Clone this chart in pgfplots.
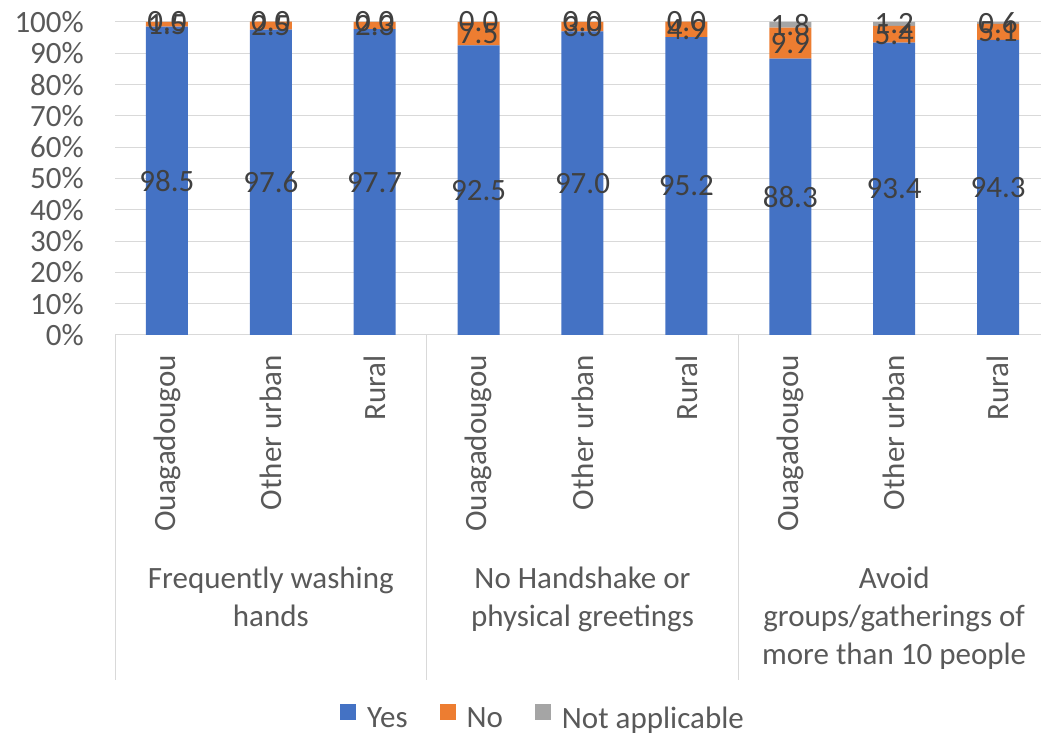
\documentclass[border=0pt]{standalone}
\usepackage{pgfplots}
\usepackage{pgfplotstable}
\pgfplotsset{compat=1.18}
\usepackage{fontspec}
\setmainfont{Carlito}
\definecolor{cblue}{HTML}{4472C4}
\definecolor{corange}{HTML}{ED7D31}
\definecolor{cgray}{HTML}{A5A5A5}
\definecolor{gridgray}{HTML}{D9D9D9}
\definecolor{ticktext}{HTML}{595959}
\definecolor{labeltext}{HTML}{404040}
\newcommand{\bigfont}{\fontsize{31bp}{38bp}\selectfont}

\pgfplotstableread{
x yes no na
0 98.5 1.5 0.0
1 97.6 2.5 0.0
2 97.7 2.3 0.0
3 92.5 7.5 0.0
4 97.0 3.0 0.0
5 95.2 4.9 0.0
6 88.3 9.9 1.8
7 93.4 5.4 1.2
8 94.3 5.1 0.6
}\datatable

\begin{document}
\begin{tikzpicture}
\begin{axis}[
  at={(115bp,399bp)}, anchor=south west,
  scale only axis, width=935bp, height=313bp,
  xmin=-0.5, xmax=8.5, ymin=0, ymax=100,
  clip=false,
  ybar stacked, stacked ignores zero=false, bar width=42bp,
  xtick={0,...,8},
  xticklabels={Ouagadougou,Other urban,Rural,Ouagadougou,Other urban,Rural,Ouagadougou,Other urban,Rural},
  xticklabel style={rotate=90, anchor=east, inner sep=0pt, font=\bigfont, text=ticktext},
  xticklabel shift=20bp,
  ytick={0,10,...,100},
  yticklabel={\pgfmathprintnumber{\tick}\%},
  yticklabel style={anchor=east, inner sep=0pt, font=\bigfont, text=ticktext},
  yticklabel shift=31bp,
  /pgf/number format/assume math mode=true,
  major tick length=0pt,
  ymajorgrids, grid style={draw=gridgray, line width=1bp},
  axis line style={draw=none},
  legend columns=3,
  legend style={draw=none, fill=none, at={(0.4578,-1.2236)}, anchor=center, font=\bigfont, text=ticktext,
    /tikz/every even column/.append style={column sep=30bp},
    /tikz/every odd column/.append style={column sep=9bp}},
  legend image code/.code={\fill[#1] (0bp,-2bp) rectangle (16bp,14bp);},
  nodes near coords={\pgfmathprintnumber[fixed,fixed zerofill,precision=1]{\pgfplotspointmeta}},
  point meta=rawy,
  every node near coord/.append style={anchor=center, font=\bigfont, text=labeltext},
]
\addplot[fill=cblue, draw=none] table[x=x, y=yes] {\datatable};
\addplot[fill=corange, draw=none] table[x=x, y=no] {\datatable};
\addplot[fill=cgray, draw=none] table[x=x, y=na] {\datatable};
\legend{Yes,No,Not applicable}
\draw[gridgray, line width=1bp] (axis cs:-0.5,0) -- ++(0bp,-345bp);
\draw[gridgray, line width=1bp] (axis cs:2.5,0) -- ++(0bp,-345bp);
\draw[gridgray, line width=1bp] (axis cs:5.5,0) -- ++(0bp,-345bp);
\draw[gridgray, line width=1bp] (axis cs:8.5,0) -- ++(0bp,-345bp);
\node[anchor=north, align=center, inner sep=0pt, font=\bigfont, text=ticktext] at ([yshift=-232bp]axis cs:1,0) {Frequently washing\\hands};
\node[anchor=north, align=center, inner sep=0pt, font=\bigfont, text=ticktext] at ([yshift=-232bp]axis cs:4,0) {No Handshake or\\physical greetings};
\node[anchor=north, align=center, inner sep=0pt, font=\bigfont, text=ticktext] at ([yshift=-232bp]axis cs:7,0) {Avoid\\groups/gatherings of\\more than 10 people};
\end{axis}
\pgfresetboundingbox
\path[use as bounding box] (0,0) rectangle (1041bp,734bp);
\end{tikzpicture}
\end{document}
